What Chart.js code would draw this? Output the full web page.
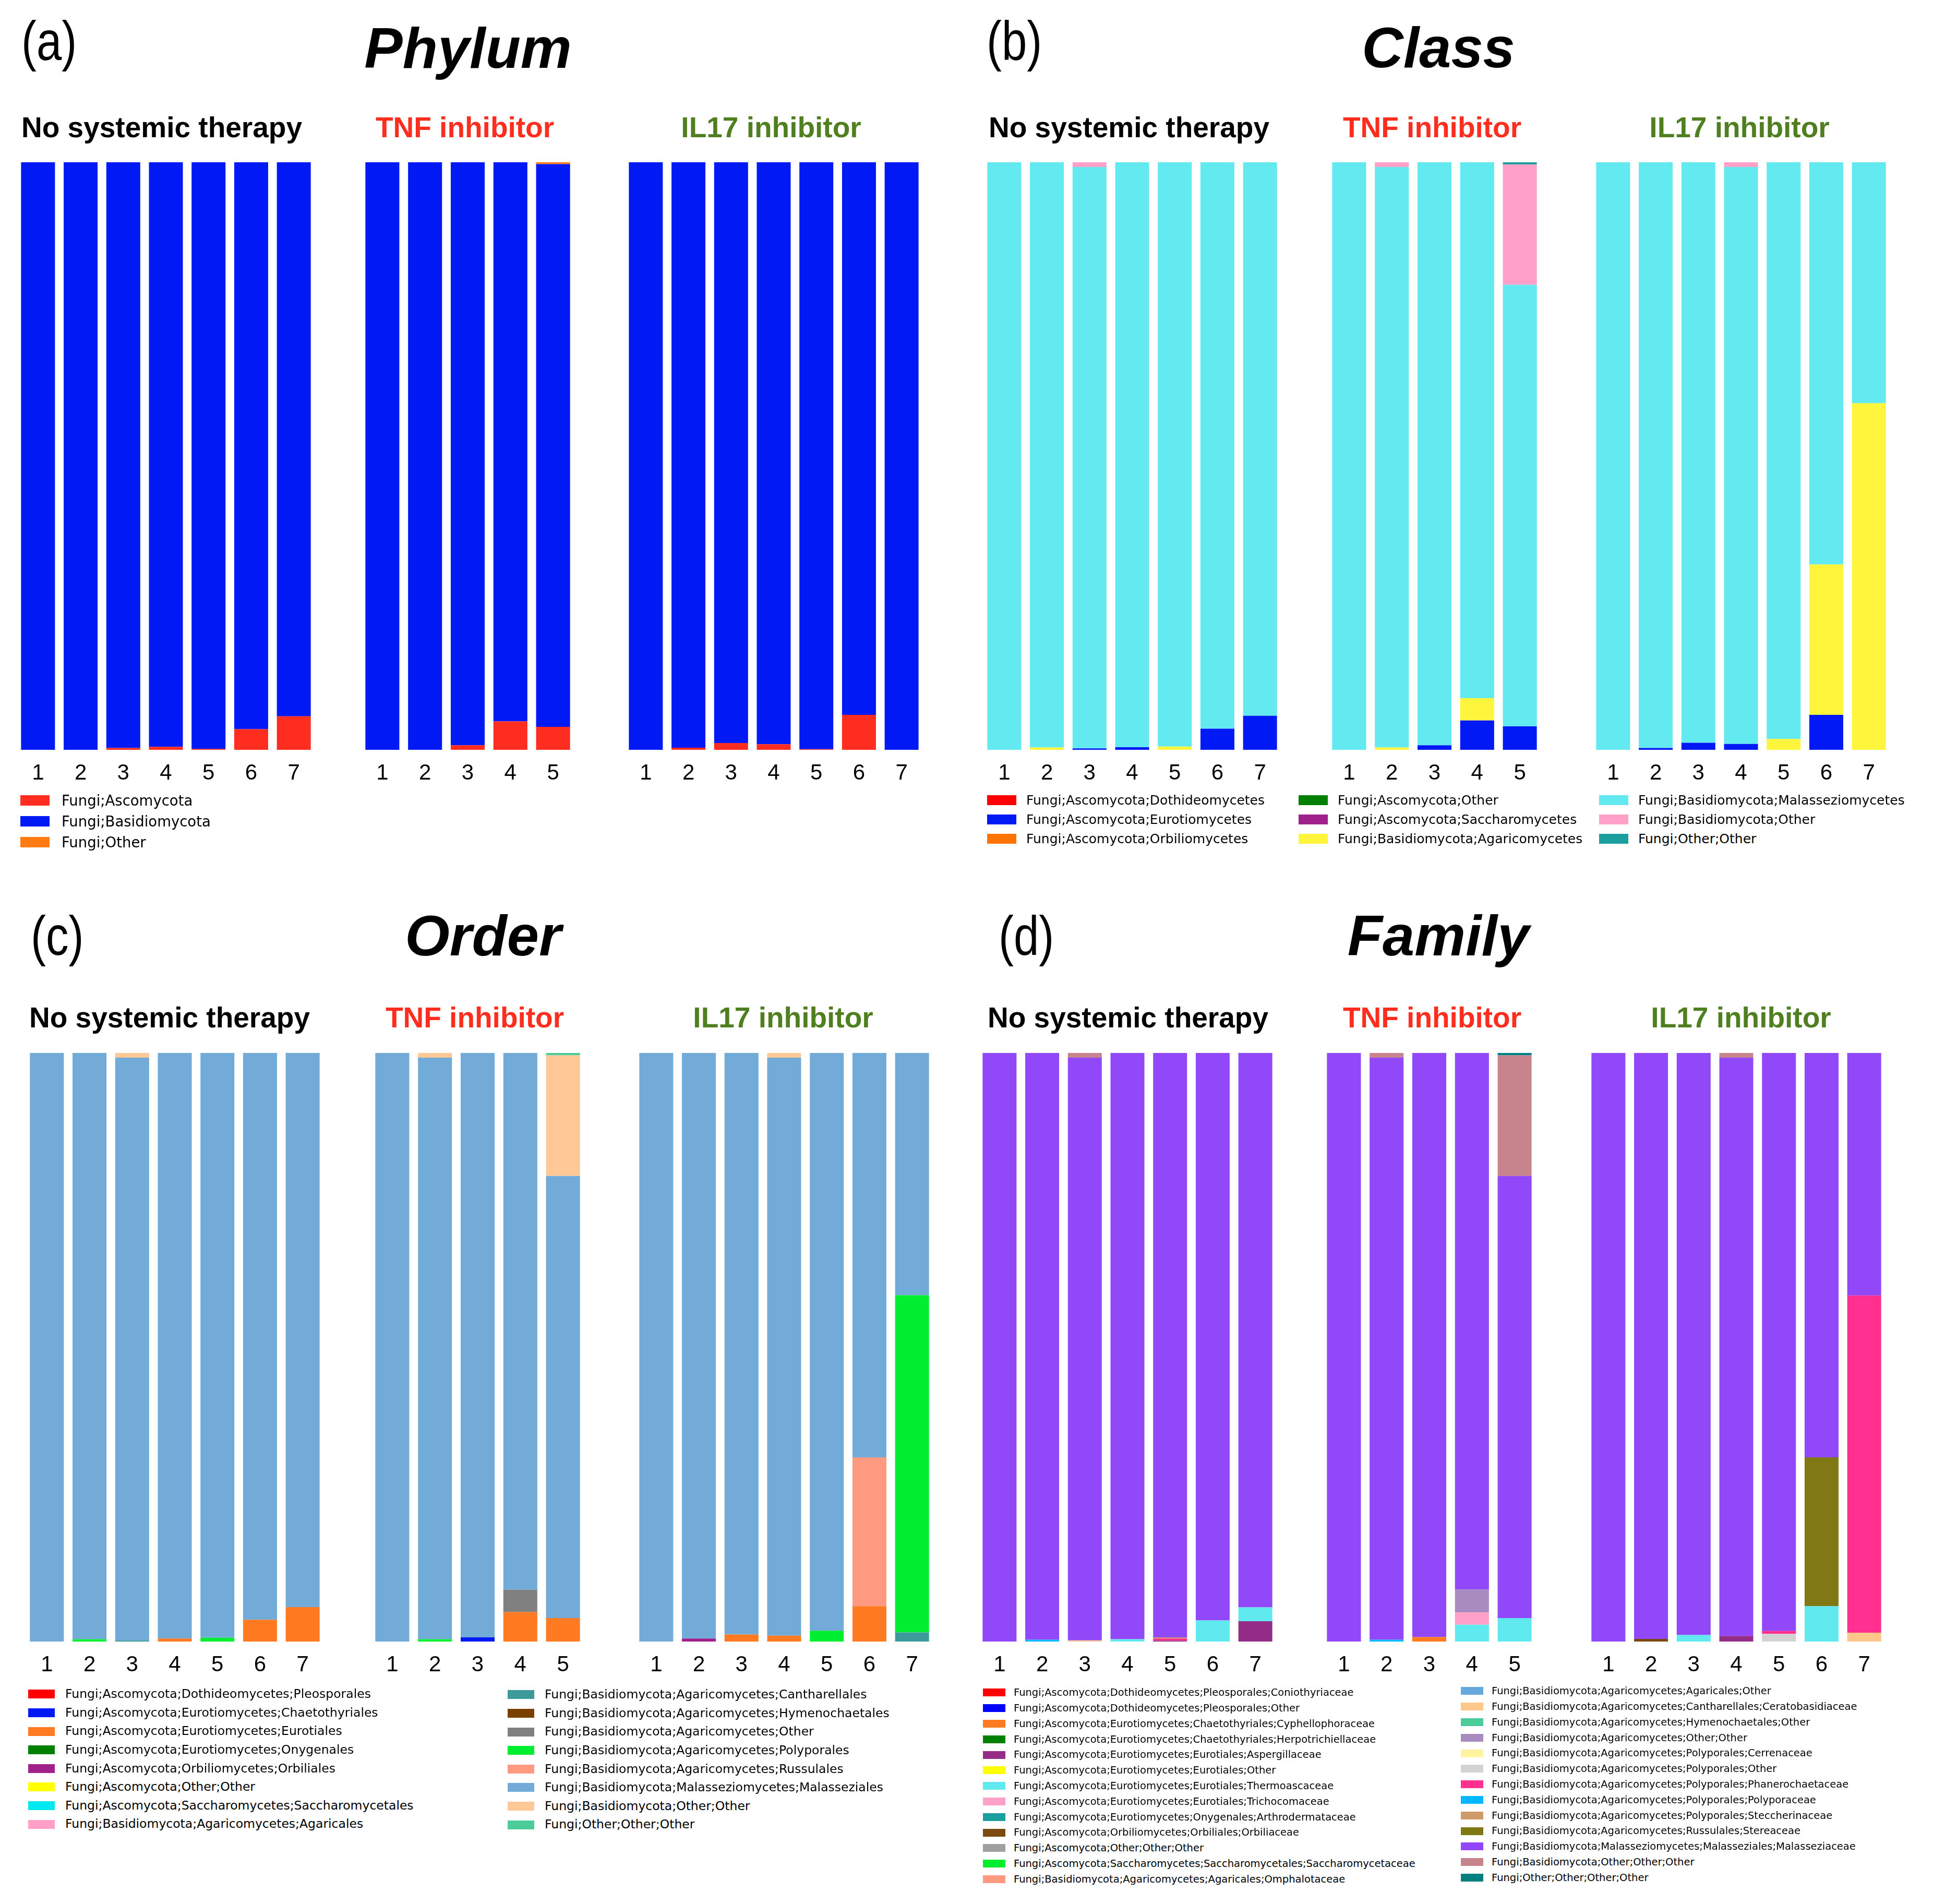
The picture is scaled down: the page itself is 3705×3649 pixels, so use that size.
<!DOCTYPE html>
<html lang="en">
<head>
<meta charset="UTF-8">
<title>Fungal composition by treatment</title>
<script src="https://cdn.jsdelivr.net/npm/chart.js@4.4.1/dist/chart.umd.min.js"></script>
<style>
  html, body { margin: 0; padding: 0; background: #fff; }
  #page { position: relative; width: 3705px; height: 3649px; overflow: hidden; font-family: 'Liberation Sans', Arial, sans-serif; color: #000; }
  .abs { position: absolute; white-space: nowrap; line-height: 1; }
  .panelTag { font-size: 106px; transform: scaleX(0.82); transform-origin: left top; }
  .levelTitle { font-size: 110px; font-weight: bold; font-style: italic; transform: translateX(-50%); }
  .groupTitle { font-size: 55px; font-weight: bold; transform: translateX(-50%); }
  .legRow { position: absolute; white-space: nowrap; font-family: 'DejaVu Sans', sans-serif; }
  .legRow .sw { position: absolute; left: 0; }
  .legRow .tx { position: absolute; top: 0; }
  canvas { position: absolute; }
</style>
</head>
<body>
<div id="page"></div>
<script>
// sample numbers under the bars
const sampleLabels = ['1', '2', '3', '4', '5', '6', '7'];
const groupNames = ['No systemic therapy', 'TNF inhibitor', 'IL17 inhibitor'];
const groupColors = ['#000000', '#ff2d1e', '#4f7f1e'];

// ---------- Phylum ----------
const phylumNames = ['Fungi;Ascomycota', 'Fungi;Basidiomycota', 'Fungi;Other'];
const phylumColors = ['#ff2d20', '#0019f5', '#ff7a10'];
const phylumNoTherapy = {
    'Fungi;Ascomycota':    [0, 0, 0.3, 0.5, 0.15, 3.5, 5.7],
    'Fungi;Basidiomycota': [100, 100, 99.7, 99.5, 99.85, 96.5, 94.3]
};
const phylumTNF = {
    'Fungi;Ascomycota':    [0, 0, 0.77, 4.85, 3.9],
    'Fungi;Basidiomycota': [100, 100, 99.23, 95.15, 95.8],
    'Fungi;Other':         [0, 0, 0, 0, 0.3]
};
const phylumIL17 = {
    'Fungi;Ascomycota':    [0, 0.35, 1.15, 0.95, 0.1, 5.95, 0],
    'Fungi;Basidiomycota': [100, 99.65, 98.85, 99.05, 99.9, 94.05, 100]
};

// ---------- Class ----------
const classNames = [
    'Fungi;Ascomycota;Dothideomycetes', 'Fungi;Ascomycota;Eurotiomycetes', 'Fungi;Ascomycota;Orbiliomycetes',
    'Fungi;Ascomycota;Other', 'Fungi;Ascomycota;Saccharomycetes', 'Fungi;Basidiomycota;Agaricomycetes',
    'Fungi;Basidiomycota;Malasseziomycetes', 'Fungi;Basidiomycota;Other', 'Fungi;Other;Other'
];
const classColors = ['#ff0000', '#0019f5', '#ff7300', '#008000', '#a0208c', '#fff53c', '#62eaf0', '#ffa0c8', '#1a9e9e'];
const classNoTherapy = {
    'Fungi;Ascomycota;Eurotiomycetes':       [0, 0, 0.25, 0.45, 0, 3.6, 5.8],
    'Fungi;Basidiomycota;Agaricomycetes':    [0, 0.4, 0, 0, 0.55, 0, 0],
    'Fungi;Basidiomycota;Malasseziomycetes': [100, 99.6, 98.95, 99.55, 99.45, 96.4, 94.2],
    'Fungi;Basidiomycota;Other':             [0, 0, 0.8, 0, 0, 0, 0]
};
const classTNF = {
    'Fungi;Ascomycota;Eurotiomycetes':       [0, 0, 0.77, 5, 4],
    'Fungi;Basidiomycota;Agaricomycetes':    [0, 0.4, 0, 3.8, 0],
    'Fungi;Basidiomycota;Malasseziomycetes': [100, 98.8, 99.23, 91.2, 75.15],
    'Fungi;Basidiomycota;Other':             [0, 0.8, 0, 0, 20.5],
    'Fungi;Other;Other':                     [0, 0, 0, 0, 0.35]
};
const classIL17 = {
    'Fungi;Ascomycota;Eurotiomycetes':       [0, 0.3, 1.2, 1.0, 0, 5.95, 0],
    'Fungi;Basidiomycota;Agaricomycetes':    [0, 0, 0, 0, 1.85, 25.6, 59],
    'Fungi;Basidiomycota;Malasseziomycetes': [100, 99.7, 98.8, 98.2, 98.15, 68.45, 41],
    'Fungi;Basidiomycota;Other':             [0, 0, 0, 0.8, 0, 0, 0]
};

// ---------- Order ----------
const orderNames = [
    'Fungi;Ascomycota;Dothideomycetes;Pleosporales', 'Fungi;Ascomycota;Eurotiomycetes;Chaetothyriales',
    'Fungi;Ascomycota;Eurotiomycetes;Eurotiales', 'Fungi;Ascomycota;Eurotiomycetes;Onygenales',
    'Fungi;Ascomycota;Orbiliomycetes;Orbiliales', 'Fungi;Ascomycota;Other;Other',
    'Fungi;Ascomycota;Saccharomycetes;Saccharomycetales', 'Fungi;Basidiomycota;Agaricomycetes;Agaricales',
    'Fungi;Basidiomycota;Agaricomycetes;Cantharellales', 'Fungi;Basidiomycota;Agaricomycetes;Hymenochaetales',
    'Fungi;Basidiomycota;Agaricomycetes;Other', 'Fungi;Basidiomycota;Agaricomycetes;Polyporales',
    'Fungi;Basidiomycota;Agaricomycetes;Russulales', 'Fungi;Basidiomycota;Malasseziomycetes;Malasseziales',
    'Fungi;Basidiomycota;Other;Other', 'Fungi;Other;Other;Other'
];
const orderColors = ['#ff0000', '#0019f5', '#ff7a20', '#008000', '#a0208c', '#ffff00', '#00e8f0', '#ffa0c8',
                     '#3c9a9a', '#7a4000', '#808080', '#00ee30', '#ff9a80', '#72aad8', '#ffc896', '#4ccc99'];
const orderNoTherapy = {
    'Fungi;Ascomycota;Eurotiomycetes;Eurotiales':          [0, 0, 0, 0.5, 0, 3.7, 5.85],
    'Fungi;Basidiomycota;Agaricomycetes;Cantharellales':   [0, 0, 0.2, 0, 0, 0, 0],
    'Fungi;Basidiomycota;Agaricomycetes;Polyporales':      [0, 0.4, 0, 0, 0.65, 0, 0],
    'Fungi;Basidiomycota;Malasseziomycetes;Malasseziales': [100, 99.6, 99.0, 99.5, 99.35, 96.3, 94.15],
    'Fungi;Basidiomycota;Other;Other':                     [0, 0, 0.8, 0, 0, 0, 0]
};
const orderTNF = {
    'Fungi;Ascomycota;Eurotiomycetes;Chaetothyriales':     [0, 0, 0.7, 0, 0],
    'Fungi;Ascomycota;Eurotiomycetes;Eurotiales':          [0, 0, 0, 5, 4],
    'Fungi;Basidiomycota;Agaricomycetes;Other':            [0, 0, 0, 3.8, 0],
    'Fungi;Basidiomycota;Agaricomycetes;Polyporales':      [0, 0.4, 0, 0, 0],
    'Fungi;Basidiomycota;Malasseziomycetes;Malasseziales': [100, 98.8, 99.3, 91.2, 75.1],
    'Fungi;Basidiomycota;Other;Other':                     [0, 0.8, 0, 0, 20.5],
    'Fungi;Other;Other;Other':                             [0, 0, 0, 0, 0.4]
};
const orderIL17 = {
    'Fungi;Ascomycota;Eurotiomycetes;Eurotiales':          [0, 0, 1.2, 1.0, 0, 6, 0],
    'Fungi;Ascomycota;Orbiliomycetes;Orbiliales':          [0, 0.5, 0, 0, 0, 0, 0],
    'Fungi;Basidiomycota;Agaricomycetes;Cantharellales':   [0, 0, 0, 0, 0, 0, 1.55],
    'Fungi;Basidiomycota;Agaricomycetes;Polyporales':      [0, 0, 0, 0, 1.85, 0, 57.3],
    'Fungi;Basidiomycota;Agaricomycetes;Russulales':       [0, 0, 0, 0, 0, 25.3, 0],
    'Fungi;Basidiomycota;Malasseziomycetes;Malasseziales': [100, 99.5, 98.8, 98.2, 98.15, 68.7, 41.15],
    'Fungi;Basidiomycota;Other;Other':                     [0, 0, 0, 0.8, 0, 0, 0]
};

// ---------- Family ----------
const familyNames = [
    'Fungi;Ascomycota;Dothideomycetes;Pleosporales;Coniothyriaceae',
    'Fungi;Ascomycota;Dothideomycetes;Pleosporales;Other',
    'Fungi;Ascomycota;Eurotiomycetes;Chaetothyriales;Cyphellophoraceae',
    'Fungi;Ascomycota;Eurotiomycetes;Chaetothyriales;Herpotrichiellaceae',
    'Fungi;Ascomycota;Eurotiomycetes;Eurotiales;Aspergillaceae',
    'Fungi;Ascomycota;Eurotiomycetes;Eurotiales;Other',
    'Fungi;Ascomycota;Eurotiomycetes;Eurotiales;Thermoascaceae',
    'Fungi;Ascomycota;Eurotiomycetes;Eurotiales;Trichocomaceae',
    'Fungi;Ascomycota;Eurotiomycetes;Onygenales;Arthrodermataceae',
    'Fungi;Ascomycota;Orbiliomycetes;Orbiliales;Orbiliaceae',
    'Fungi;Ascomycota;Other;Other;Other',
    'Fungi;Ascomycota;Saccharomycetes;Saccharomycetales;Saccharomycetaceae',
    'Fungi;Basidiomycota;Agaricomycetes;Agaricales;Omphalotaceae',
    'Fungi;Basidiomycota;Agaricomycetes;Agaricales;Other',
    'Fungi;Basidiomycota;Agaricomycetes;Cantharellales;Ceratobasidiaceae',
    'Fungi;Basidiomycota;Agaricomycetes;Hymenochaetales;Other',
    'Fungi;Basidiomycota;Agaricomycetes;Other;Other',
    'Fungi;Basidiomycota;Agaricomycetes;Polyporales;Cerrenaceae',
    'Fungi;Basidiomycota;Agaricomycetes;Polyporales;Other',
    'Fungi;Basidiomycota;Agaricomycetes;Polyporales;Phanerochaetaceae',
    'Fungi;Basidiomycota;Agaricomycetes;Polyporales;Polyporaceae',
    'Fungi;Basidiomycota;Agaricomycetes;Polyporales;Steccherinaceae',
    'Fungi;Basidiomycota;Agaricomycetes;Russulales;Stereaceae',
    'Fungi;Basidiomycota;Malasseziomycetes;Malasseziales;Malasseziaceae',
    'Fungi;Basidiomycota;Other;Other;Other',
    'Fungi;Other;Other;Other;Other'
];
const familyColors = ['#ff0000', '#0000ff', '#ff7a20', '#008000', '#952c88', '#ffff00', '#60eaf0', '#ffa0c8',
                      '#1a9e9e', '#7a4a10', '#a0a0a0', '#00ee30', '#ff9a80', '#66aadd', '#ffc88a', '#4ccc99',
                      '#a88cc0', '#fff5a0', '#d3d3d3', '#ff3090', '#00b8ff', '#d09a6a', '#807814', '#9048f8',
                      '#c8848c', '#008080'];
const familyNoTherapy = {
    'Fungi;Ascomycota;Eurotiomycetes;Eurotiales;Aspergillaceae':          [0, 0, 0, 0, 0.15, 0, 3.45],
    'Fungi;Ascomycota;Eurotiomycetes;Eurotiales;Thermoascaceae':          [0, 0, 0, 0.4, 0, 3.6, 2.35],
    'Fungi;Basidiomycota;Agaricomycetes;Cantharellales;Ceratobasidiaceae': [0, 0, 0.2, 0, 0, 0, 0],
    'Fungi;Basidiomycota;Agaricomycetes;Polyporales;Phanerochaetaceae':   [0, 0, 0, 0, 0.35, 0, 0],
    'Fungi;Basidiomycota;Agaricomycetes;Polyporales;Polyporaceae':        [0, 0.3, 0, 0, 0, 0, 0],
    'Fungi;Basidiomycota;Agaricomycetes;Polyporales;Steccherinaceae':     [0, 0, 0, 0, 0.2, 0, 0],
    'Fungi;Basidiomycota;Malasseziomycetes;Malasseziales;Malasseziaceae': [100, 99.7, 99.0, 99.6, 99.3, 96.4, 94.2],
    'Fungi;Basidiomycota;Other;Other;Other':                              [0, 0, 0.8, 0, 0, 0, 0]
};
const familyTNF = {
    'Fungi;Ascomycota;Eurotiomycetes;Chaetothyriales;Cyphellophoraceae':  [0, 0, 0.75, 0, 0],
    'Fungi;Ascomycota;Eurotiomycetes;Eurotiales;Thermoascaceae':          [0, 0, 0, 2.85, 4],
    'Fungi;Ascomycota;Eurotiomycetes;Eurotiales;Trichocomaceae':          [0, 0, 0, 2.1, 0],
    'Fungi;Basidiomycota;Agaricomycetes;Other;Other':                     [0, 0, 0, 3.9, 0],
    'Fungi;Basidiomycota;Agaricomycetes;Polyporales;Polyporaceae':        [0, 0.3, 0, 0, 0],
    'Fungi;Basidiomycota;Malasseziomycetes;Malasseziales;Malasseziaceae': [100, 98.9, 99.25, 91.15, 75.1],
    'Fungi;Basidiomycota;Other;Other;Other':                              [0, 0.8, 0, 0, 20.5],
    'Fungi;Other;Other;Other;Other':                                      [0, 0, 0, 0, 0.4]
};
const familyIL17 = {
    'Fungi;Ascomycota;Eurotiomycetes;Eurotiales;Aspergillaceae':          [0, 0, 0, 0.95, 0, 0, 0],
    'Fungi;Ascomycota;Eurotiomycetes;Eurotiales;Thermoascaceae':          [0, 0, 1.1, 0, 0, 6, 0],
    'Fungi;Ascomycota;Orbiliomycetes;Orbiliales;Orbiliaceae':             [0, 0.45, 0, 0, 0, 0, 0],
    'Fungi;Basidiomycota;Agaricomycetes;Cantharellales;Ceratobasidiaceae': [0, 0, 0, 0, 0, 0, 1.5],
    'Fungi;Basidiomycota;Agaricomycetes;Polyporales;Other':               [0, 0, 0, 0, 1.3, 0, 0],
    'Fungi;Basidiomycota;Agaricomycetes;Polyporales;Phanerochaetaceae':   [0, 0, 0, 0, 0.5, 0, 57.3],
    'Fungi;Basidiomycota;Agaricomycetes;Russulales;Stereaceae':           [0, 0, 0, 0, 0, 25.3, 0],
    'Fungi;Basidiomycota;Malasseziomycetes;Malasseziales;Malasseziaceae': [100, 99.55, 98.9, 98.25, 98.2, 68.7, 41.2],
    'Fungi;Basidiomycota;Other;Other;Other':                              [0, 0, 0, 0.8, 0, 0, 0]
};

// ---------- layout ----------
const page = document.getElementById('page');
const STEP = 81.7;      // one sample slot
const BAR_W = 65;       // drawn bar width
const AXIS_H = 100;     // room for the sample numbers

function addText(cls, text, x, y, color) {
    const d = document.createElement('div');
    d.className = 'abs ' + cls;
    d.textContent = text;
    d.style.left = x + 'px';
    d.style.top = y + 'px';
    if (color) d.style.color = color;
    page.appendChild(d);
}

function drawGroup(names, colors, values, nBars, firstBarLeft, top, plotH) {
    const canvas = document.createElement('canvas');
    const w = Math.round(nBars * STEP);
    const h = plotH + AXIS_H;
    canvas.width = w;
    canvas.height = h;
    canvas.style.width = w + 'px';
    canvas.style.height = h + 'px';
    canvas.style.left = (firstBarLeft - (STEP - BAR_W) / 2) + 'px';
    canvas.style.top = top + 'px';
    page.appendChild(canvas);

    const datasets = names.filter(n => values[n]).map(n => ({
        label: n,
        data: values[n],
        backgroundColor: colors[names.indexOf(n)],
        borderWidth: 0,
        barPercentage: BAR_W / STEP,
        categoryPercentage: 1
    }));

    new Chart(canvas, {
        type: 'bar',
        data: { labels: sampleLabels.slice(0, nBars), datasets: datasets },
        options: {
            responsive: false,
            animation: false,
            devicePixelRatio: 1,
            layout: { padding: 0 },
            plugins: { legend: { display: false }, tooltip: { enabled: false } },
            scales: {
                x: {
                    stacked: true,
                    grid: { display: false, drawTicks: false },
                    border: { display: false },
                    ticks: { color: '#000', padding: 20, font: { family: 'Liberation Sans', size: 42 } },
                    afterFit: s => { s.height = AXIS_H; }
                },
                y: { stacked: true, display: false, min: 0, max: 100 }
            }
        }
    });
}

function addLegend(names, colors, columns, o) {
    let k = 0;
    columns.forEach(col => {
        for (let r = 0; r < col.count; r++, k++) {
            const cy = col.y0 + r * o.step;
            const row = document.createElement('div');
            row.className = 'legRow';
            row.style.left = col.x + 'px';
            row.style.top = (cy - o.step / 2) + 'px';
            row.style.height = o.step + 'px';
            const sw = document.createElement('span');
            sw.className = 'sw';
            sw.style.width = o.swW + 'px';
            sw.style.height = o.swH + 'px';
            sw.style.top = ((o.step - o.swH) / 2) + 'px';
            sw.style.background = colors[k];
            const tx = document.createElement('span');
            tx.className = 'tx';
            tx.style.left = o.textDx + 'px';
            tx.style.fontSize = o.font + 'px';
            tx.style.lineHeight = o.step + 'px';
            tx.textContent = names[k];
            row.appendChild(sw);
            row.appendChild(tx);
            page.appendChild(row);
        }
    });
}

function drawPanel(p) {
    addText('panelTag', p.tag, p.tagX, p.tagY);
    addText('levelTitle', p.title, p.titleX, p.titleY);
    p.groupX.forEach((gx, i) => addText('groupTitle', groupNames[i], gx, p.groupY, groupColors[i]));
    p.data.forEach((vals, i) => {
        const n = i === 1 ? 5 : 7;
        drawGroup(p.names, p.colors, vals, n, p.barLeft[i], p.plotTop, p.plotH);
    });
    addLegend(p.names, p.colors, p.legendCols, p.legend);
}

drawPanel({
    tag: '(a)', tagX: 41, tagY: 25, title: 'Phylum', titleX: 897, titleY: 37,
    groupX: [310, 891, 1478], groupY: 217,
    names: phylumNames, colors: phylumColors, data: [phylumNoTherapy, phylumTNF, phylumIL17],
    barLeft: [40, 700, 1205], plotTop: 311, plotH: 1126,
    legendCols: [{ x: 39, y0: 1534, count: 3 }],
    legend: { step: 40, swW: 56, swH: 20, textDx: 79, font: 27.5 }
});

drawPanel({
    tag: '(b)', tagX: 1891, tagY: 25, title: 'Class', titleX: 2757, titleY: 36,
    groupX: [2164, 2745, 3334], groupY: 217,
    names: classNames, colors: classColors, data: [classNoTherapy, classTNF, classIL17],
    barLeft: [1892, 2553, 3059], plotTop: 311, plotH: 1126,
    legendCols: [{ x: 1892, y0: 1533, count: 3 }, { x: 2489, y0: 1533, count: 3 }, { x: 3065, y0: 1533, count: 3 }],
    legend: { step: 37, swW: 56, swH: 19, textDx: 75, font: 25 }
});

drawPanel({
    tag: '(c)', tagX: 59, tagY: 1740, title: 'Order', titleX: 926, titleY: 1738,
    groupX: [325, 910, 1501], groupY: 1923,
    names: orderNames, colors: orderColors, data: [orderNoTherapy, orderTNF, orderIL17],
    barLeft: [57, 719, 1225], plotTop: 2018, plotH: 1128,
    legendCols: [{ x: 54, y0: 3247, count: 8 }, { x: 973, y0: 3248, count: 8 }],
    legend: { step: 35.6, swW: 51, swH: 17, textDx: 71, font: 23.5 }
});

drawPanel({
    tag: '(d)', tagX: 1914, tagY: 1740, title: 'Family', titleX: 2757, titleY: 1738,
    groupX: [2162, 2745, 3337], groupY: 1923,
    names: familyNames, colors: familyColors, data: [familyNoTherapy, familyTNF, familyIL17],
    barLeft: [1883, 2543, 3050], plotTop: 2018, plotH: 1128,
    legendCols: [{ x: 1884, y0: 3244, count: 13 }, { x: 2800, y0: 3241, count: 13 }],
    legend: { step: 29.8, swW: 43, swH: 15, textDx: 59, font: 19.5 }
});
</script>
</body>
</html>
